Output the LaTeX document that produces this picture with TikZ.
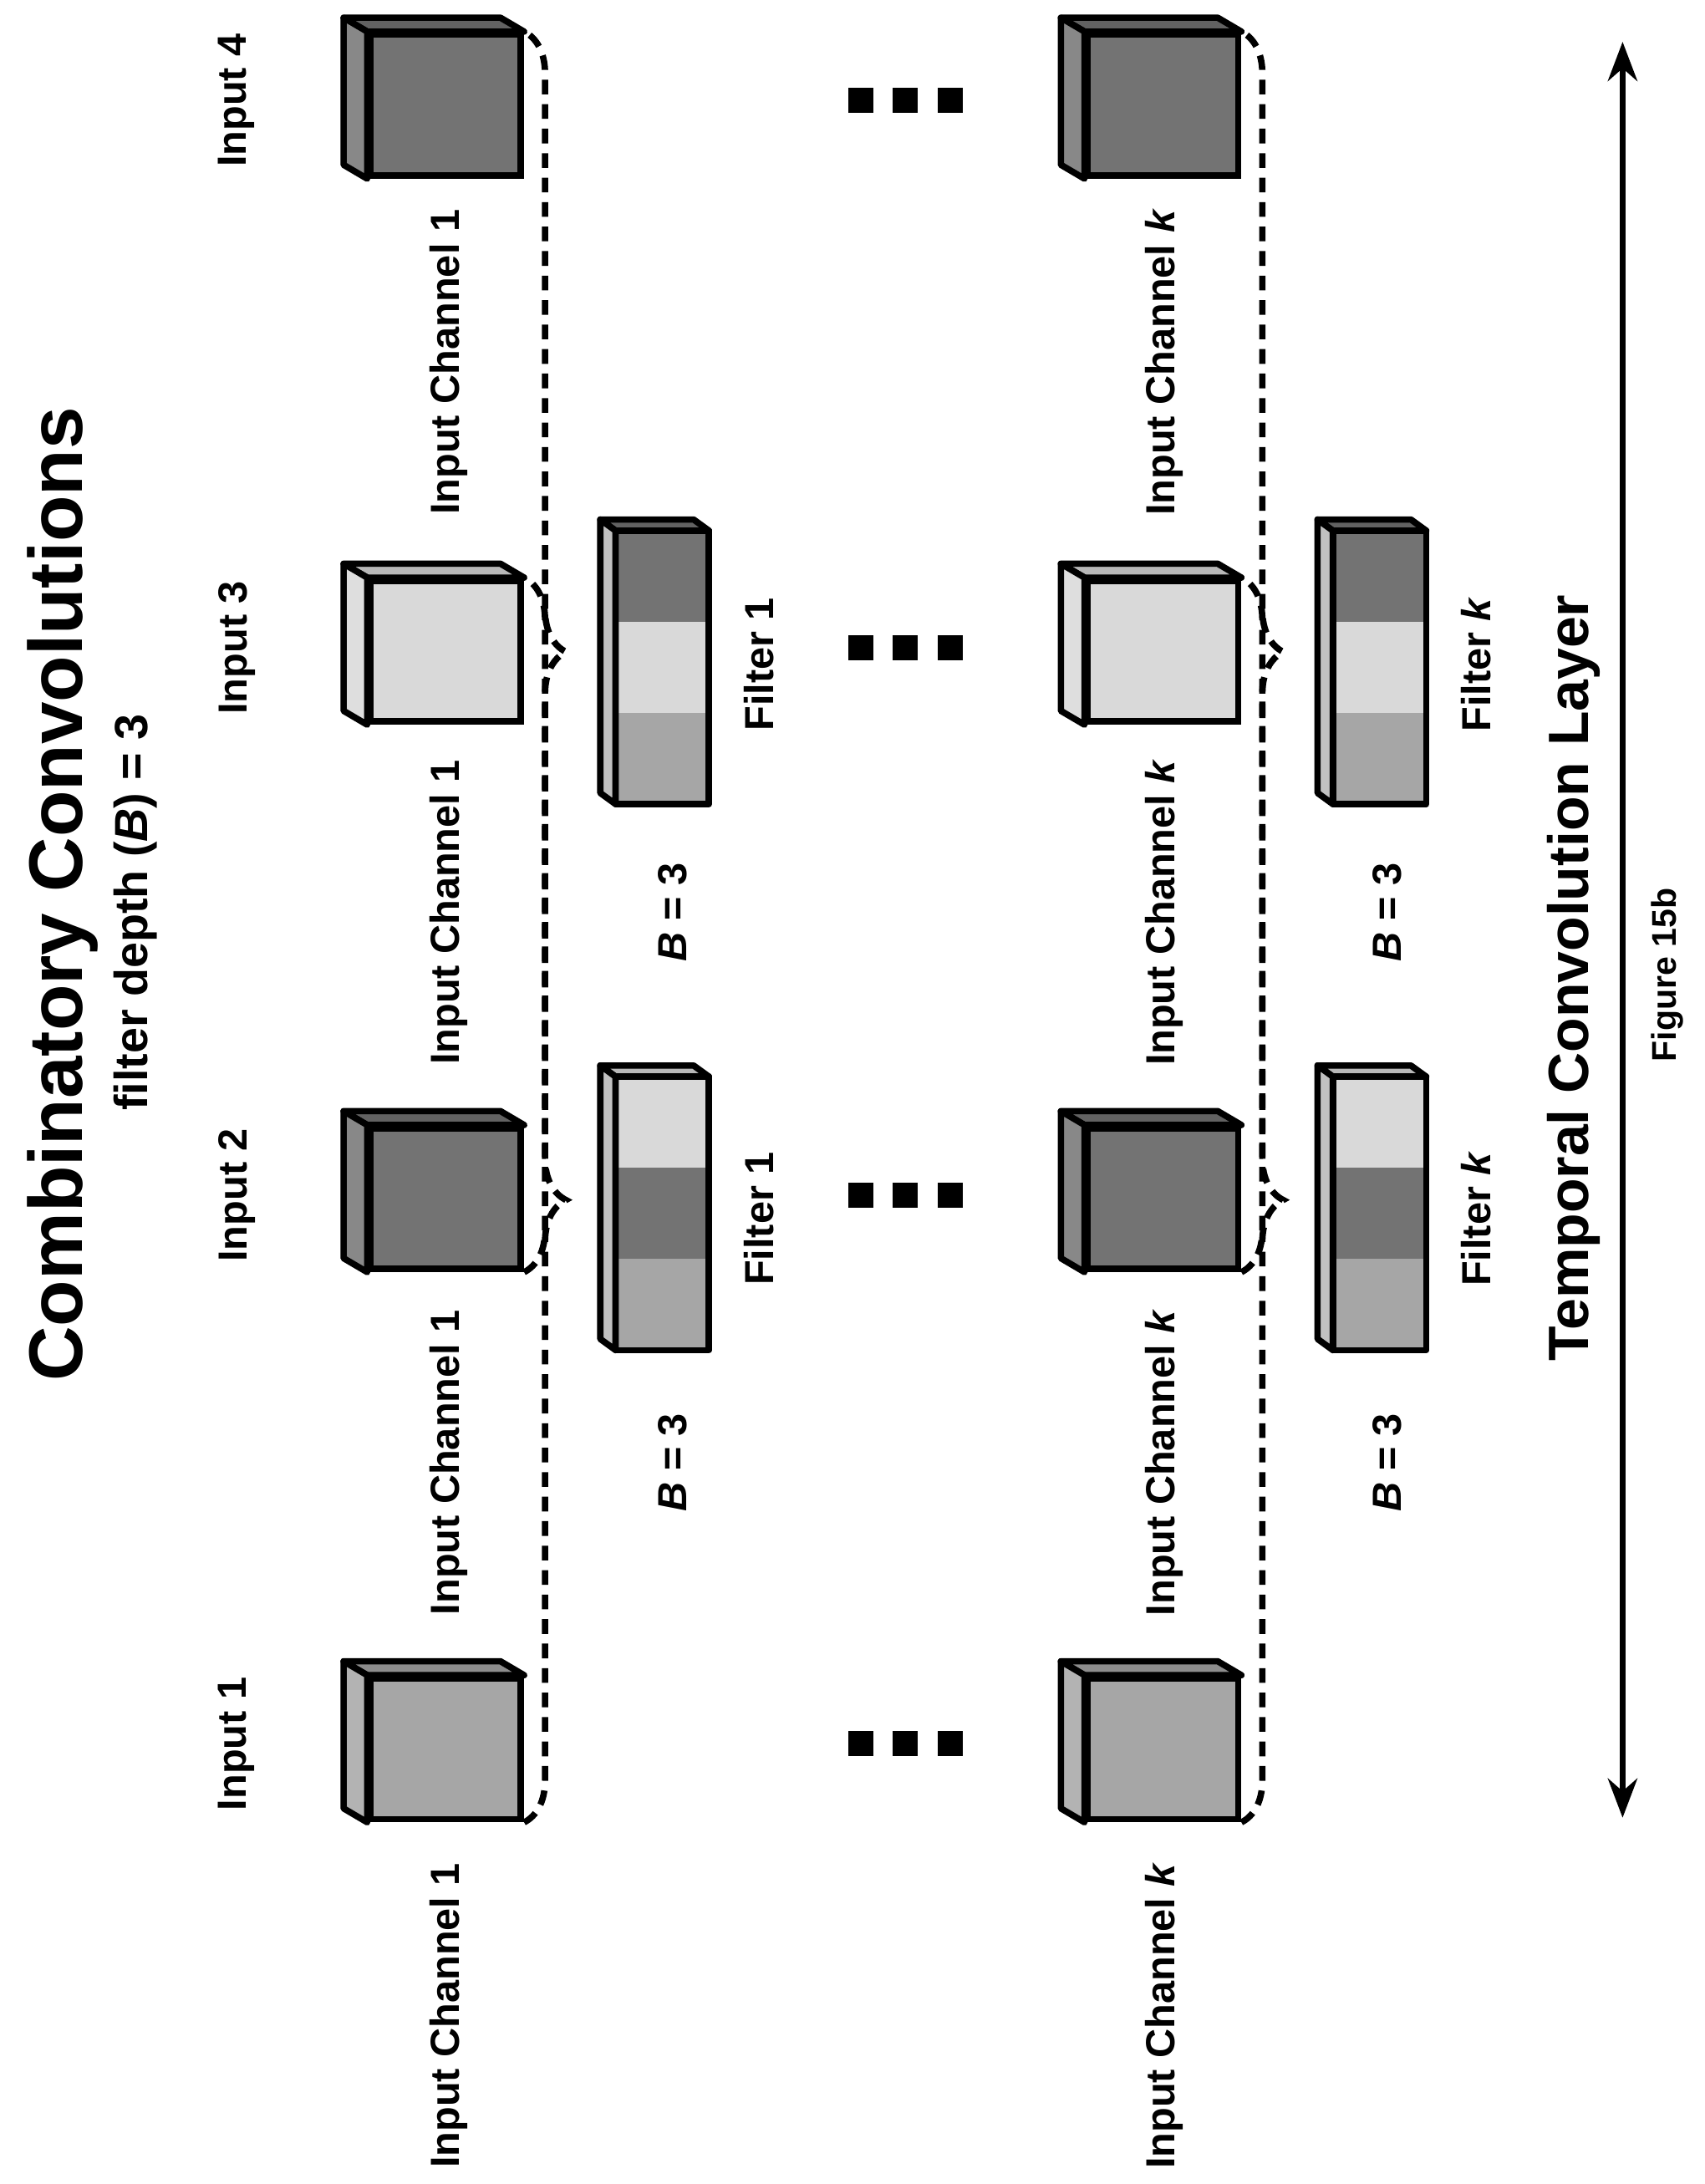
\documentclass[tikz,border=0pt]{standalone}
\usepackage{fontspec}
\setmainfont{Liberation Sans}
\usetikzlibrary{positioning}
\usetikzlibrary{calc}
\usetikzlibrary{arrows.meta}
\usetikzlibrary{decorations.pathreplacing}
\definecolor{dark}{gray}{0.45}
\definecolor{medium}{gray}{0.65}
\definecolor{light}{gray}{0.85}

% cube: name, left x, top y (front face), fill
\newcommand{\incube}[4]{%
    \node[cubeface, fill=#4] (#1) at (#2+54,#3+50.5) {};
    \draw[edge, fill=#4!85!black] (#1.north west) -- ++(-17,-10) -- ($(#1.north east)+(-17,-10)$) -- (#1.north east) -- cycle;
    \draw[edge, fill=#4!85!white] (#1.north west) -- ++(-17,-10) -- ($(#1.south west)+(-17,-10)$) -- (#1.south west) -- cycle;
}
% filter: name, left x, top y, top band, mid band, bottom band
\newcommand{\filterbar}[6]{%
    \node[band, fill=#4] (#1a) at (#2+33.5,#3+32.7) {};
    \node[band, fill=#5, below=0pt of #1a] (#1b) {};
    \node[band, fill=#6, below=0pt of #1b] (#1c) {};
    \draw[edge, fill=#4!85!black] (#1a.north west) -- ++(-11,-8) -- ($(#1a.north east)+(-11,-8)$) -- (#1a.north east) -- cycle;
    \draw[edge, fill=medium!70!white] (#1a.north west) -- ++(-11,-8) -- ($(#1c.south west)+(-11,-8)$) -- (#1c.south west) -- cycle;
    \draw[edge] (#1a.north west) rectangle (#1c.south east);
}

\begin{document}
\begin{tikzpicture}
    [x=0.01cm, y=-0.01cm,
    edge/.style={line width=1.3pt, line join=round},
    cubeface/.style={draw, line width=1.3pt, minimum width=1.08cm, minimum height=1.01cm, inner sep=0pt},
    band/.style={minimum width=0.67cm, minimum height=0.654cm, inner sep=0pt, outer sep=0pt},
    lbl/.style={rotate=90, font=\bfseries\fontsize{8.3}{9}\selectfont},
    dot/.style={fill=black, minimum size=0.18cm, inner sep=0pt},
    brace/.style={line width=1.3pt, dashed, dash pattern=on 3pt off 2pt, decorate, decoration={brace, mirror, amplitude=0.3cm}}]
    \useasboundingbox (0,0) rectangle (1224,1568);
    % titles
    \node[rotate=90, font=\bfseries\fontsize{15.5}{18}\selectfont] (title) at (45,642) {Combinatory Convolutions};
    \node[rotate=90, font=\bfseries\fontsize{9.5}{11}\selectfont] (depth) at (97,655) {filter depth (\textit{B}) = 3};
    \node[rotate=90, font=\bfseries\fontsize{11.6}{14}\selectfont] (layer) at (1130,702) {Temporal Convolution Layer};
    \node[rotate=90, font=\bfseries\fontsize{7}{8}\selectfont] (fig) at (1197,700) {Figure 15b};
    % inputs
    \node[lbl] (in1) at (170,1252) {Input 1};
    \node[lbl] (in2) at (170,858) {Input 2};
    \node[lbl] (in3) at (170,465) {Input 3};
    \node[lbl] (in4) at (170,72) {Input 4};
    % channel 1 row
    \incube{a1}{266}{1205}{medium}
    \incube{a2}{266}{810}{dark}
    \incube{a3}{266}{417}{light}
    \incube{a4}{266}{25}{dark}
    % channel k row
    \incube{b1}{781}{1205}{medium}
    \incube{b2}{781}{810}{dark}
    \incube{b3}{781}{417}{light}
    \incube{b4}{781}{25}{dark}
    \foreach \y/\n in {1447/1, 1050/2, 655/3, 260/4} {
        \node[lbl] (ca\n) at (322,\y) {Input Channel 1};
        \node[lbl] (cb\n) at (836,\y) {Input Channel \textit{k}};
    }
    % filters
    \filterbar{fa}{442}{773}{light}{dark}{medium}
    \filterbar{fb}{442}{381}{dark}{light}{medium}
    \filterbar{fc}{957}{773}{light}{dark}{medium}
    \filterbar{fd}{957}{381}{dark}{light}{medium}
    \foreach \y/\n in {1050/1, 655/2} {
        \node[lbl] (ba\n) at (483,\y) {\textit{B} = 3};
        \node[lbl] (bb\n) at (996,\y) {\textit{B} = 3};
    }
    \foreach \y/\n in {875/1, 477/2} {
        \node[lbl] (fla\n) at (545,\y) {Filter 1};
        \node[lbl] (flb\n) at (1060,\y) {Filter \textit{k}};
    }
    % braces
    \draw[brace] (a1.south east) -- (a3.north east);
    \draw[brace] (a2.south east) -- (a4.north east);
    \draw[brace] (b1.south east) -- (b3.north east);
    \draw[brace] (b2.south east) -- (b4.north east);
    % ellipsis
    \foreach \y in {1252,858,465,72}
        \foreach \x in {618,650,682}
            \node[dot] (d\x-\y) at (\x,\y) {};
    % extent arrow
    \coordinate (top) at (1165,30);
    \coordinate (bot) at (1165,1305);
    \draw[{Stealth[length=8pt]}-{Stealth[length=8pt]}, line width=1.2pt] (top) -- (bot);
\end{tikzpicture}
\end{document}
